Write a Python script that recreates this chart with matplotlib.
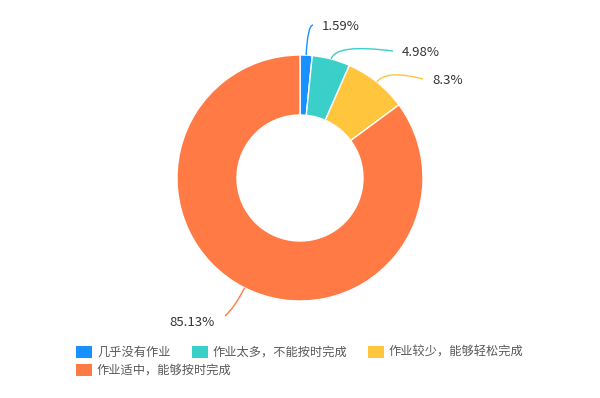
import numpy as np
import matplotlib.pyplot as plt
from matplotlib.patches import Rectangle, PathPatch
from matplotlib.path import Path

plt.rcParams['font.family'] = ['Noto Sans CJK SC', 'DejaVu Sans']

categories = ['几乎没有作业', '作业太多，不能按时完成', '作业较少，能够轻松完成', '作业适中，能够按时完成']
values = [1.59, 4.98, 8.3, 85.13]
value_labels = ['1.59%', '4.98%', '8.3%', '85.13%']
colors = ['#1890ff', '#3bcfc9', '#ffc53d', '#ff7a45']

W, H = 600, 398
cx, cy, R, r_in = 300, H - 178, 123, 63

# label text anchors (pixel coords, top-left origin) and leader elbow extension
label_pos = [(322, 27), (402, 53), (432, 81), (215, 322)]
elbow_ext = [30, 16, 16, 22]

fig = plt.figure(figsize=(W / 100, H / 100), dpi=100)
ax = fig.add_axes([0, 0, 1, 1])

wedges, _ = ax.pie(values, colors=colors, startangle=90, counterclock=False,
                   center=(cx, cy), radius=R,
                   wedgeprops=dict(width=R - r_in, edgecolor='white', linewidth=1))
# pie resets the limits, so set them afterwards
ax.set_xlim(0, W)
ax.set_ylim(0, H)
ax.set_aspect('equal')
ax.axis('off')

# leader lines + labels
total = sum(values)
cum = 0
for i, v in enumerate(values):
    mid = (cum + v / 2) / total
    cum += v
    ang = np.pi / 2 - 2 * np.pi * mid
    p0 = (cx + R * np.cos(ang), cy + R * np.sin(ang))
    e = R + elbow_ext[i]
    p1 = (cx + e * np.cos(ang), cy + e * np.sin(ang))
    tx, ty = label_pos[i]
    ty = H - ty
    right = np.cos(ang) >= 0
    p2 = (tx - 9, ty + 2) if right else (tx + 10, ty + 6)
    path = Path([p0, p1, p2], [Path.MOVETO, Path.CURVE3, Path.CURVE3])
    ax.add_patch(PathPatch(path, fill=False, edgecolor=colors[i], lw=1))
    ax.text(tx, ty, value_labels[i], ha='left' if right else 'right', va='center',
            fontsize=9.5, color='#333333')

# legend
leg_pos = [(76, 352), (192, 352), (368, 352), (76, 370)]
for i, lab in enumerate(categories):
    x, y = leg_pos[i]
    ax.add_patch(Rectangle((x, H - y - 6), 16, 12, facecolor=colors[i], edgecolor='none'))
    ax.text(x + 21, H - y, lab, ha='left', va='center', fontsize=8.8, color='#595959')

fig.savefig('out.png', dpi=100)
